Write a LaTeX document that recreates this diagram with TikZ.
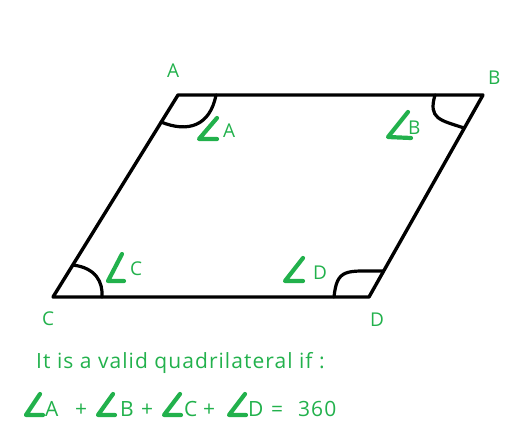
\documentclass[tikz,border=0pt]{standalone}
\usepackage{fontspec}
\setmainfont{Open Sans}
\newfontfamily\widefont[LetterSpace=5]{Open Sans}
\definecolor{pgreen}{RGB}{34,177,76}
\begin{document}
\begin{tikzpicture}[x=1pt,y=-1pt,
  edge/.style={line width=3.4pt,line join=round,line cap=round},
  arcmark/.style={line width=3.2pt,line cap=round},
  angmark/.style={pgreen,line width=4.2pt,line cap=round,line join=round},
  lbl/.style={pgreen,inner sep=0pt,anchor=base west,font=\fontsize{19}{22}\selectfont},
  eqt/.style={pgreen,inner sep=0pt,anchor=base west,font=\widefont\fontsize{21}{25}\selectfont}]
\useasboundingbox (0,0) rectangle (516,439);
% vertices
\coordinate (A) at (178,95);
\coordinate (B) at (483,95);
\coordinate (C) at (53,297);
\coordinate (D) at (369,297);
\draw[edge] (A) -- (B) -- (D) -- (C) -- cycle;
% angle arcs
\coordinate (a1) at (161,122); \coordinate (a2) at (216,95);
\draw[arcmark] (a1) .. controls (188,133) and (210,126) .. (a2);
\coordinate (b1) at (435,95); \coordinate (b2) at (464,128);
\draw[arcmark] (b1) .. controls (428,119) and (440,120) .. (b2);
\coordinate (c1) at (73,265); \coordinate (c2) at (102,297);
\draw[arcmark] (c1) .. controls (96,268) and (103,282) .. (c2);
\coordinate (d1) at (334,297); \coordinate (d2) at (383,271);
\draw[arcmark] (d1) .. controls (337,268) and (346,271) .. (d2);
% vertex labels
\node[lbl] (lA) at (167,77) {A};
\node[lbl] (lB) at (488,84) {B};
\node[lbl] (lC) at (42,325) {C};
\node[lbl] (lD) at (370,326) {D};
% angle marks inside
\draw[angmark] (217,118) -- (199,139) -- (217,139);
\node[lbl] (iA) at (223,137) {A};
\draw[angmark] (408,112) -- (388,137) -- (411,138);
\node[lbl] (iB) at (408,134) {B};
\draw[angmark] (122,254) -- (108,281) -- (124,281);
\node[lbl] (iC) at (130,275) {C};
\draw[angmark] (303,258) -- (285,281) -- (303,281);
\node[lbl] (iD) at (313,279) {D};
% text
\node[eqt] (t1) at (36,368) {It is a valid quadrilateral if :};
\draw[angmark] (40,394) -- (26,415) -- (43,415);
\node[eqt] (eA) at (45,416) {A};
\node[eqt] (p1) at (75,416) {+};
\draw[angmark] (113,394) -- (98,415) -- (115,415);
\node[eqt] (eB) at (120,416) {B};
\node[eqt] (p2) at (141,416) {+};
\draw[angmark] (180,394) -- (164,415) -- (181,415);
\node[eqt] (eC) at (184,416) {C};
\node[eqt] (p3) at (203,416) {+};
\draw[angmark] (245,394) -- (229,415) -- (246,415);
\node[eqt] (eD) at (248,416) {D};
\node[eqt] (eq) at (271,416) {=};
\node[eqt] (n) at (298,416) {360};
\end{tikzpicture}
\end{document}
